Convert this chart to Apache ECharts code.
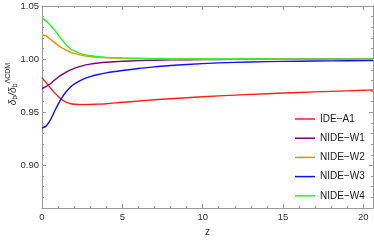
<!DOCTYPE html>
<html><head><meta charset="utf-8">
<script src="https://cdn.jsdelivr.net/npm/echarts@6/dist/echarts.min.js"></script>
<style>html,body{margin:0;padding:0;background:#fff}#c{width:374px;height:242px}</style>
</head><body><div id="c"></div>
<script>
var zValues = [0,0.25,0.5,0.75,1,1.25,1.5,1.75,2,2.5,3,3.5,4,5,6,7,8,10,12,14,16,18,20,20.6];
var ideA1  = [0.9826,0.978,0.9734,0.969,0.965,0.9617,0.9595,0.9582,0.9576,0.9572,0.9574,0.9577,0.9581,0.9594,0.9606,0.9618,0.9628,0.9646,0.9662,0.9675,0.9687,0.9697,0.9707,0.971];
var nideW1 = [0.9724,0.9742,0.9766,0.980,0.983,0.9855,0.9878,0.9897,0.9913,0.9937,0.9953,0.9964,0.9971,0.998,0.9986,0.999,0.9993,0.9996,0.9998,0.9999,0.9999,1.0,1.0,1.0];
var nideW2 = [1.023,1.0218,1.019,1.016,1.013,1.0105,1.0085,1.0067,1.0054,1.0036,1.0024,1.0017,1.0013,1.0008,1.0005,1.0003,1.0002,1.0001,1.0,1.0,1.0,1.0,1.0,1.0];
var nideW3 = [0.9352,0.937,0.9422,0.950,0.9575,0.964,0.9693,0.9734,0.9765,0.9808,0.9836,0.9856,0.9871,0.9893,0.9912,0.9927,0.994,0.9958,0.997,0.9977,0.9981,0.9984,0.9986,0.9987];
var nideW4 = [1.0385,1.036,1.032,1.028,1.023,1.018,1.0135,1.010,1.0078,1.0048,1.0032,1.0022,1.0017,1.0012,1.0008,1.0005,1.0003,1.0002,1.0001,1.0001,1.0,1.0,1.0,1.0];
var seriesNames = ['IDE\u2212A1','NIDE\u2212W1','NIDE\u2212W2','NIDE\u2212W3','NIDE\u2212W4'];
var seriesColors = ['#ff2020','#800080','#ff8c00','#1010ff','#20ff20'];
var yMajorTicks = [0.90,0.95,1.00,1.05];
var yMinorTicks = [0.86,0.87,0.88,0.89,0.91,0.92,0.93,0.94,0.96,0.97,0.98,0.99,1.01,1.02,1.03,1.04];
var xMin = 0, xMax = 20.6, yMin = 0.86, yMax = 1.05;

var allData = [ideA1,nideW1,nideW2,nideW3,nideW4];
var axisColor = '#9a9a9a';
var labelStyle = {color:'#333', fontSize:9.5, fontFamily:'Liberation Sans, Arial, sans-serif'};

function xAx(pos, showLabel){
  return {type:'value', min:xMin, max:xMax, interval:5, position:pos,
    axisLine:{show:true, onZero:false, lineStyle:{color:axisColor, width:1}},
    axisTick:{show:true, inside:true, length:4, lineStyle:{color:axisColor}},
    minorTick:{show:true, splitNumber:5, length:2, lineStyle:{color:axisColor}},
    axisLabel:Object.assign({show:showLabel, margin:4, showMaxLabel:false}, labelStyle),
    splitLine:{show:false}};
}
function yAx(pos, ticks, len, showLine, showLabel){
  return {type:'value', min:yMin, max:yMax, position:pos,
    axisLine:{show:showLine, onZero:false, lineStyle:{color:axisColor, width:1}},
    axisTick:{show:true, inside:true, length:len, customValues:ticks, lineStyle:{color:axisColor}},
    axisLabel:Object.assign({show:showLabel, margin:3, customValues:yMajorTicks,
      formatter:function(v){return v.toFixed(2);}}, labelStyle),
    splitLine:{show:false}};
}

var chart = echarts.init(document.getElementById('c'), null, {renderer:'canvas'});
var xa0 = xAx('bottom', true);
xa0.name = 'z'; xa0.nameLocation = 'middle'; xa0.nameGap = 19;
xa0.nameTextStyle = {color:'#333', fontSize:10, fontFamily:'Liberation Sans, Arial, sans-serif'};
chart.setOption({
  animation:false,
  grid:{left:42, right:1, top:6, bottom:31, containLabel:false},
  legend:{show:true, orient:'vertical', left:290, top:108, icon:'rect', itemWidth:20, itemHeight:1.5, itemGap:7.2,
    textStyle:{color:'#222', fontSize:10, lineHeight:12, fontFamily:'Liberation Sans, Arial, sans-serif'},
    data:seriesNames},
  xAxis:[xa0, xAx('top', false)],
  yAxis:[yAx('left', yMajorTicks, 4, true, true), yAx('left', yMinorTicks, 2, false, false),
         yAx('right', yMajorTicks, 4, true, false), yAx('right', yMinorTicks, 2, false, false)],
  graphic:[{type:'text', x:12, y:84, rotation:Math.PI/2,
    style:{text:'{i|\u03b4}{s|b}{i|/\u03b4}{s|b}{p|\u039bCDM}', align:'center', verticalAlign:'middle',
      rich:{i:{fontSize:10, fontStyle:'italic', fill:'#333', fontFamily:'Liberation Sans, Arial, sans-serif', padding:[2,0,0,0]},
            s:{fontSize:7, fill:'#333', fontFamily:'Liberation Sans, Arial, sans-serif', padding:[7,0,0,0]},
            p:{fontSize:7, fill:'#333', fontFamily:'Liberation Sans, Arial, sans-serif', padding:[0,0,7,0]}}}}],
  series:seriesNames.map(function(n,i){
    return {name:n, type:'line', xAxisIndex:0, yAxisIndex:0, symbol:'none', smooth:0.3,
      lineStyle:{color:seriesColors[i], width:1.4}, itemStyle:{color:seriesColors[i]},
      data:zValues.map(function(z,k){return [z, allData[i][k]];})};
  })
});
</script></body></html>
